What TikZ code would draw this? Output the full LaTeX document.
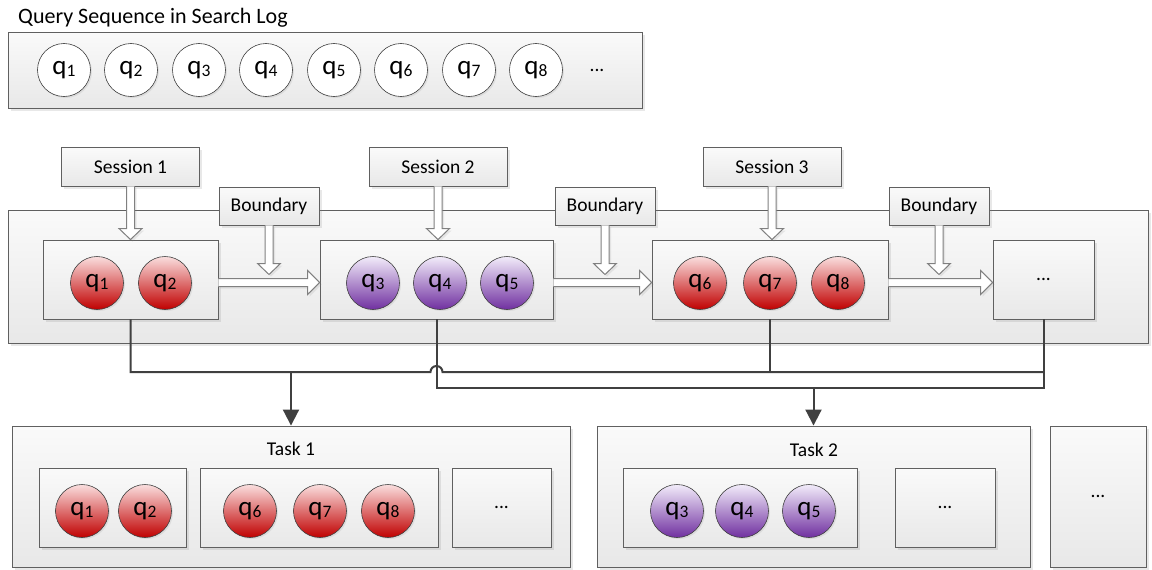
\documentclass[tikz,border=0pt]{standalone}
\usepackage{fontspec}
\setmainfont{Carlito}
\usepackage{tikz}
\usetikzlibrary{arrows.meta,shadows,calc}
\definecolor{linegray}{RGB}{64,64,64}
\definecolor{boxline}{RGB}{96,96,96}
\definecolor{arrline}{RGB}{128,128,128}
\definecolor{redtop}{RGB}{250,222,222}
\definecolor{redmid}{RGB}{230,128,128}
\definecolor{redbot}{RGB}{192,0,0}
\definecolor{purtop}{RGB}{242,236,250}
\definecolor{purmid}{RGB}{186,156,214}
\definecolor{purbot}{RGB}{112,48,160}
\newcommand\qq[1]{q\raisebox{-2.5pt}{\fontsize{17.5}{17.5}\selectfont #1}}
% block arrows, open at the start
\newcommand\hollowdown[2]{%
  \draw[hollow] let \p1=(#1), \p2=(#2) in
    (\x1-4pt,\y1) -- (\x1-4pt,\y2+11pt) -- (\x1-11.5pt,\y2+11pt) -- (\x1,\y2)
    -- (\x1+11.5pt,\y2+11pt) -- (\x1+4pt,\y2+11pt) -- (\x1+4pt,\y1);}
\newcommand\hollowright[2]{%
  \draw[hollow] let \p1=(#1), \p2=(#2) in
    (\x1,\y1+4pt) -- (\x2-12pt,\y1+4pt) -- (\x2-12pt,\y1+12pt) -- (\x2,\y1)
    -- (\x2-12pt,\y1-12pt) -- (\x2-12pt,\y1-4pt) -- (\x1,\y1-4pt);}
\tikzset{
  lbl/.style = {inner sep=0pt, font=\fontsize{19.5}{23}\selectfont},
  box/.style = {rectangle, draw=boxline, line width=0.9pt,
    top color=black!2, bottom color=black!9,
    drop shadow={shadow xshift=2.5pt, shadow yshift=-2.5pt, opacity=0.18}},
  qry/.style = {circle, draw=linegray, line width=0.6pt, minimum size=53pt,
    inner sep=0pt, font=\fontsize{27}{30}\selectfont,
    drop shadow={shadow xshift=1.5pt, shadow yshift=-1.5pt, opacity=0.15}},% query node
  qry_w/.style = {qry, fill=white},
  qry_r/.style = {qry, top color=redtop, middle color=redmid, bottom color=redbot},
  qry_p/.style = {qry, top color=purtop, middle color=purmid, bottom color=purbot},
  hollow/.style = {fill=white, draw=arrline, line width=1pt, line join=miter,
    drop shadow={shadow xshift=2pt, shadow yshift=-2pt, opacity=0.15}},
  bus/.style = {draw=linegray, line width=2pt, line join=miter},
}

\begin{document}
\begin{tikzpicture}[x=1pt,y=-1pt,>={Triangle[length=16pt,width=16pt]}]
  \useasboundingbox (0,0) rectangle (1152,570);

  % search log
  \node[lbl, anchor=west, font=\fontsize{22}{26}\selectfont] (title) at (18,18) {Query Sequence in Search Log};
  \node[box, minimum width=634, minimum height=76] (qlog) at (325,70) {};
  \node[qry_w] (l1) at (64,70) {\qq{1}};
  \node[qry_w] (l2) at (131,70) {\qq{2}};
  \node[qry_w] (l3) at (199,70) {\qq{3}};
  \node[qry_w] (l4) at (266,70) {\qq{4}};
  \node[qry_w] (l5) at (334,70) {\qq{5}};
  \node[qry_w] (l6) at (401,70) {\qq{6}};
  \node[qry_w] (l7) at (469,70) {\qq{7}};
  \node[qry_w] (l8) at (536,70) {\qq{8}};
  \node[lbl] (ldots) at (597,70) {...};

  % sessions
  \node[box, minimum width=1140, minimum height=133] (row) at (578,276.5) {};
  \node[box, minimum width=175, minimum height=79] (s1) at (130.5,279.5) {};
  \node[box, minimum width=233, minimum height=79] (s2) at (436.5,279.5) {};
  \node[box, minimum width=236, minimum height=79] (s3) at (770,279.5) {};
  \node[box, lbl, minimum width=101, minimum height=79] (s4) at (1043.5,279.5) {...};
  \node[qry_r] (q1) at (97,283) {\qq{1}};
  \node[qry_r] (q2) at (165,283) {\qq{2}};
  \node[qry_p] (q3) at (373,283) {\qq{3}};
  \node[qry_p] (q4) at (440,283) {\qq{4}};
  \node[qry_p] (q5) at (507,283) {\qq{5}};
  \node[qry_r] (q6) at (700,283) {\qq{6}};
  \node[qry_r] (q7) at (770,283) {\qq{7}};
  \node[qry_r] (q8) at (838,283) {\qq{8}};

  \node[box, lbl, minimum width=138, minimum height=39] (ss1) at (130.5,166.5) {Session 1};
  \node[box, lbl, minimum width=138, minimum height=39] (ss2) at (438,166.5) {Session 2};
  \node[box, lbl, minimum width=138, minimum height=39] (ss3) at (772,166.5) {Session 3};
  \node[box, lbl, minimum width=100, minimum height=38] (bd1) at (269,206) {Boundary};
  \node[box, lbl, minimum width=100, minimum height=38] (bd2) at (605,206) {Boundary};
  \node[box, lbl, minimum width=100, minimum height=38] (bd3) at (939,206) {Boundary};

  \hollowdown{ss1.south}{s1.north}
  \hollowdown{ss2.south}{s2.north}
  \hollowdown{ss3.south}{s3.north}
  \hollowright{[yshift=-3pt]s1.east}{[yshift=-3pt]s2.west}
  \hollowright{[yshift=-3pt]s2.east}{[yshift=-3pt]s3.west}
  \hollowright{[yshift=-3pt]s3.east}{[yshift=-3pt]s4.west}
  \coordinate (bt1) at ($(bd1.south |- s1.east)+(0,-5)$);
  \coordinate (bt2) at ($(bd2.south |- s2.east)+(0,-5)$);
  \coordinate (bt3) at ($(bd3.south |- s3.east)+(0,-5)$);
  \hollowdown{bd1.south}{bt1}
  \hollowdown{bd2.south}{bt2}
  \hollowdown{bd3.south}{bt3}

  % tasks
  \node[box, minimum width=558, minimum height=141] (t1) at (291,496.5) {};
  \node[lbl] (t1lbl) at (291,449) {Task 1};
  \node[box, minimum width=147, minimum height=79] (t1a) at (112.5,507.5) {};
  \node[box, minimum width=238, minimum height=79] (t1b) at (319,507.5) {};
  \node[box, lbl, minimum width=99, minimum height=79] (t1c) at (501.5,507.5) {...};
  \node[qry_r] (t1q1) at (82,511) {\qq{1}};
  \node[qry_r] (t1q2) at (145,511) {\qq{2}};
  \node[qry_r] (t1q6) at (250,511) {\qq{6}};
  \node[qry_r] (t1q7) at (320,511) {\qq{7}};
  \node[qry_r] (t1q8) at (388,511) {\qq{8}};

  \node[box, minimum width=433, minimum height=141] (t2) at (813.5,496.5) {};
  \node[lbl] (t2lbl) at (814,450) {Task 2};
  \node[box, minimum width=234, minimum height=79] (t2a) at (740,507.5) {};
  \node[box, lbl, minimum width=100, minimum height=79] (t2b) at (945,507.5) {...};
  \node[qry_p] (t2q3) at (677,511) {\qq{3}};
  \node[qry_p] (t2q4) at (742,511) {\qq{4}};
  \node[qry_p] (t2q5) at (809,511) {\qq{5}};

  \node[box, lbl, minimum width=96, minimum height=141] (t3) at (1098,496.5) {...};

  % grouping lines
  \coordinate (busa) at (0,372);
  \coordinate (busb) at (0,388);
  \coordinate (hop) at (s2.south |- busa);
  \draw[bus] (s1.south) |- ($(hop)+(-6,0)$) arc[start angle=180, end angle=360, radius=6] -- (s4.south |- busa);
  \draw[bus] (s3.south) -- (s3.south |- busa);
  \draw[bus] (s2.south) |- (s4.south |- busb) -- (s4.south);
  \draw[bus,->] (t1.north |- busa) -- (t1.north);
  \draw[bus,->] (t2.north |- busb) -- (t2.north);
\end{tikzpicture}
\end{document}
